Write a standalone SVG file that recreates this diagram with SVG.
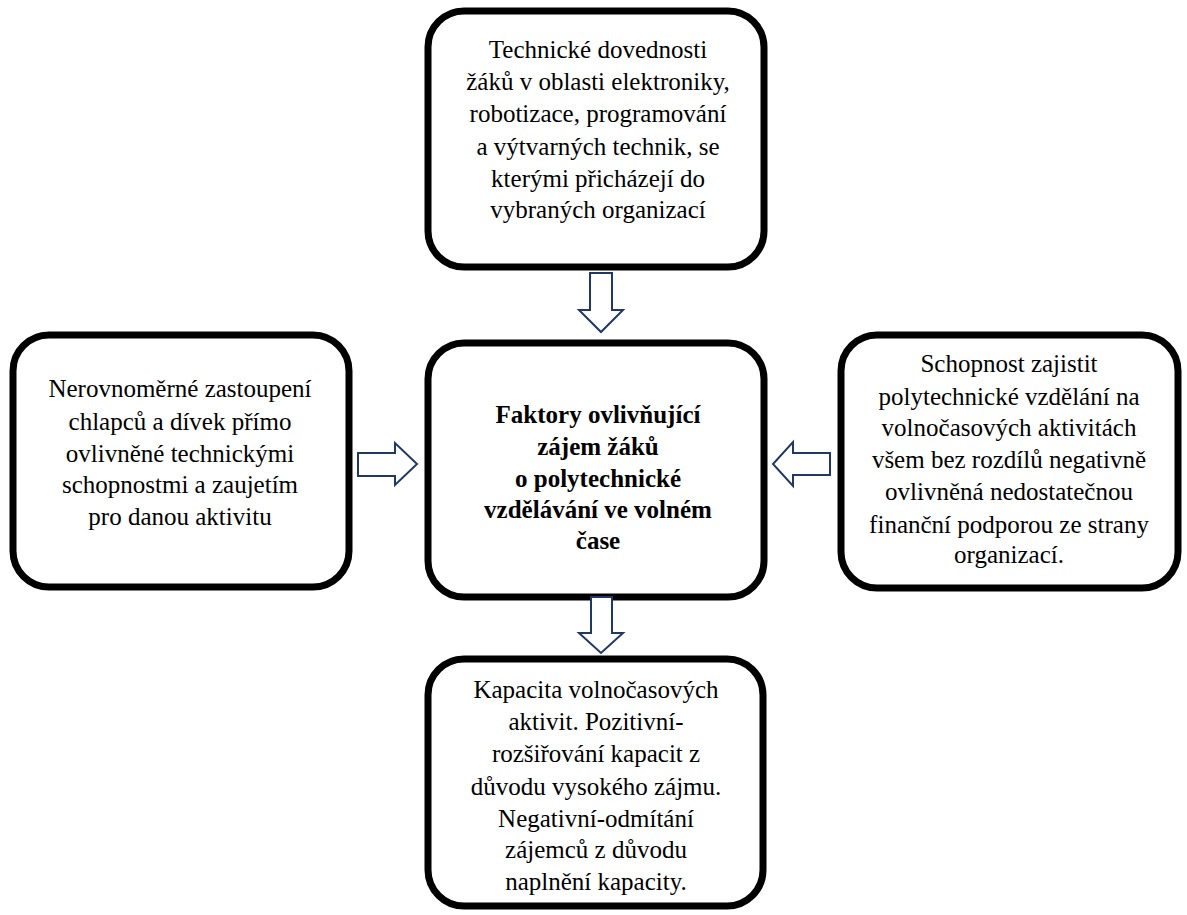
<svg xmlns="http://www.w3.org/2000/svg" width="1187" height="915" viewBox="0 0 1187 915">
<style>
.box{fill:#fff;stroke:#000;stroke-width:7}
.t{font-family:"Liberation Serif","Times New Roman",serif;font-size:25px;fill:#000;text-anchor:middle}
.b{font-weight:bold}
.arr{fill:#fff;stroke:#203864;stroke-width:2;stroke-linejoin:miter}
</style>
<rect width="1187" height="915" fill="#fff"/>
<g id="top">
<rect class="box" x="428" y="11" width="336" height="256" rx="36"/>
<text class="t"><tspan x="598" y="58">Technické dovednosti</tspan><tspan x="598" y="90">žáků v oblasti elektroniky,</tspan><tspan x="598" y="122">robotizace, programování</tspan><tspan x="598" y="155">a výtvarných technik, se</tspan><tspan x="598" y="187">kterými přicházejí do</tspan><tspan x="598" y="218">vybraných organizací</tspan></text>
</g>
<g id="left">
<rect class="box" x="13" y="335" width="336" height="252" rx="36"/>
<text class="t"><tspan x="180" y="397">Nerovnoměrné zastoupení</tspan><tspan x="180" y="430">chlapců a dívek přímo</tspan><tspan x="180" y="462">ovlivněné technickými</tspan><tspan x="180" y="493">schopnostmi a zaujetím</tspan><tspan x="180" y="525">pro danou aktivitu</tspan></text>
</g>
<g id="center">
<rect class="box" x="428" y="343" width="336" height="254" rx="36"/>
<text class="t b"><tspan x="598" y="423">Faktory ovlivňující</tspan><tspan x="598" y="455">zájem žáků</tspan><tspan x="598" y="487">o polytechnické</tspan><tspan x="598" y="518">vzdělávání ve volném</tspan><tspan x="598" y="549">čase</tspan></text>
</g>
<g id="right">
<rect class="box" x="841" y="335" width="337" height="253" rx="36"/>
<text class="t"><tspan x="1009" y="372">Schopnost zajistit</tspan><tspan x="1009" y="405">polytechnické vzdělání na</tspan><tspan x="1009" y="436">volnočasových aktivitách</tspan><tspan x="1009" y="468">všem bez rozdílů negativně</tspan><tspan x="1009" y="500">ovlivněná nedostatečnou</tspan><tspan x="1009" y="533">finanční podporou ze strany</tspan><tspan x="1009" y="563">organizací.</tspan></text>
</g>
<g id="bottom">
<rect class="box" x="428" y="659" width="335" height="247" rx="36"/>
<text class="t"><tspan x="596" y="698">Kapacita volnočasových</tspan><tspan x="596" y="730">aktivit. Pozitivní-</tspan><tspan x="596" y="762">rozšiřování kapacit z</tspan><tspan x="596" y="795">důvodu vysokého zájmu.</tspan><tspan x="596" y="827">Negativní-odmítání</tspan><tspan x="596" y="858">zájemců z důvodu</tspan><tspan x="596" y="890">naplnění kapacity.</tspan></text>
</g>
<g id="connectors">
<polygon class="arr" points="590,273 612,273 612,310 623,310 601,332 579,310 590,310"/>
<polygon class="arr" points="358,453 395,453 395,443 417,464 395,485 395,476 358,476"/>
<polygon class="arr" points="830,453 793,453 793,442 773,464 793,486 793,475 830,475"/>
<polygon class="arr" points="591,597 612,597 612,633 623,633 601,653 579,633 591,633"/>
</g>
</svg>
